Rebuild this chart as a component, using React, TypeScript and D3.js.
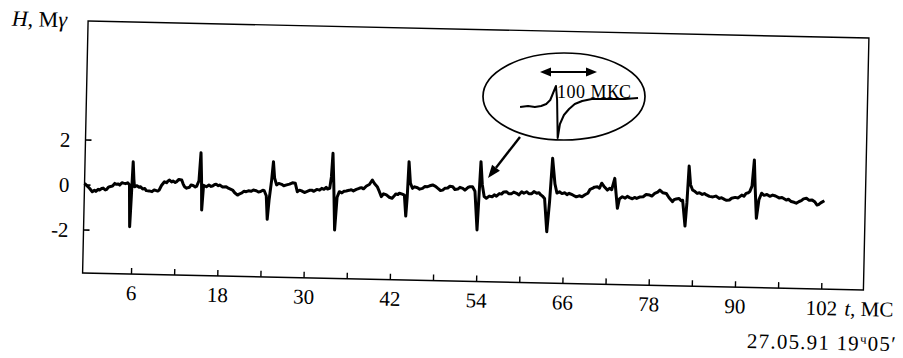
import React from 'react';
import * as d3 from 'd3';

// magnetic field trace (t in ms, H in mγ)
const times = [
  -0.8, -0.4, -0.1, 0.3, 0.6, 0.8, 1.1, 1.3, 1.6, 1.8,
  2.1, 2.3, 2.5, 2.7, 3.1, 3.4, 3.6, 3.9, 4.1, 4.4,
  4.6, 4.9, 5.2, 5.45, 5.6, 5.75, 5.9, 6.05, 6.15, 6.5,
  6.8, 7.0, 7.3, 7.6, 7.8, 8.2, 8.6, 8.9, 9.1, 9.4,
  9.6, 9.9, 10.3, 10.6, 10.8, 11.0, 11.3, 11.5, 11.8, 12.0,
  12.3, 12.7, 12.9, 13.1, 13.4, 13.8, 14.0, 14.3, 14.6, 14.8,
  15.1, 15.3, 15.45, 15.56, 15.75, 16.15, 16.5, 16.8, 17.0, 17.3,
  17.5, 17.8, 18.0, 18.4, 18.9, 19.2, 19.5, 19.8, 20.1, 20.5,
  20.8, 21.1, 21.4, 21.7, 22.0, 22.4, 22.7, 23.1, 23.4, 23.7,
  24.0, 24.2, 24.5, 24.7, 24.9, 25.2, 25.4, 25.6, 25.9, 26.2,
  26.6, 26.9, 27.3, 27.7, 28.1, 28.5, 28.8, 29.1, 29.4, 29.8,
  30.1, 30.5, 30.8, 31.1, 31.5, 31.9, 32.2, 32.5, 32.8, 33.0,
  33.3, 33.5, 33.65, 33.85, 34.1, 34.35, 34.65, 35.0, 35.3, 35.6,
  36.0, 36.3, 36.6, 37.0, 37.4, 37.7, 38.0, 38.4, 38.8, 39.2,
  39.5, 39.9, 40.2, 40.5, 40.8, 41.2, 41.6, 42.0, 42.3, 42.5,
  42.8, 43.0, 43.4, 43.7, 43.95, 44.1, 44.25, 44.5, 44.8, 45.1,
  45.5, 45.8, 46.2, 46.5, 46.9, 47.2, 47.6, 48.0, 48.3, 48.7,
  49.0, 49.3, 49.7, 50.0, 50.4, 50.7, 51.1, 51.4, 51.8, 52.1,
  52.5, 52.8, 53.15, 53.5, 53.9, 54.05, 54.25, 54.5, 54.8, 55.1,
  55.5, 55.9, 56.2, 56.5, 56.9, 57.2, 57.5, 57.9, 58.2, 58.6,
  58.9, 59.3, 59.6, 60.0, 60.3, 60.7, 61.0, 61.4, 61.7, 62.1,
  62.4, 62.6, 62.9, 63.2, 63.6, 63.9, 64.2, 64.6, 64.9, 65.25,
  65.6, 66.0, 66.3, 66.6, 67.1, 67.6, 68.0, 68.4, 68.8, 69.2,
  69.5, 69.8, 70.1, 70.5, 70.8, 71.1, 71.4, 71.9, 72.2, 72.5,
  72.9, 73.1, 73.35, 73.6, 74.0, 74.4, 74.7, 75.0, 75.4, 75.7,
  76.0, 76.4, 76.9, 77.3, 77.8, 78.1, 78.5, 78.9, 79.2, 79.6,
  80.1, 80.5, 81.0, 81.2, 81.5, 81.9, 82.2, 82.4, 82.8, 83.0,
  83.2, 83.45, 83.75, 84.1, 84.4, 84.7, 85.1, 85.4, 85.7, 86.1,
  86.6, 87.0, 87.5, 87.8, 88.2, 88.5, 88.9, 89.2, 89.7, 90.1,
  90.6, 90.9, 91.2, 91.5, 91.7, 92.0, 92.25, 92.45, 92.7, 93.0,
  93.35, 93.7, 94.1, 94.5, 94.9, 95.3, 95.8, 96.2, 96.8, 97.1,
  97.5, 97.9, 98.2, 98.6, 98.9, 99.2, 99.6, 100.0, 100.4, 100.8,
  101.1, 101.3, 101.6, 102.1,
];
const field = [
  0.07, -0.05, -0.14, -0.29, -0.22, -0.27, -0.18, -0.21, -0.14, -0.12,
  -0.2, -0.17, -0.08, -0.05, -0.02, 0.1, 0.06, 0.08, 0.03, 0.14,
  0.12, 0.1, 0.14, 0.05, -1.81, -0.4, 1.08, 0.3, -0.03, 0.02,
  -0.05, -0.02, -0.12, -0.1, -0.19, -0.2, -0.23, -0.15, -0.17, -0.2,
  -0.15, 0.05, 0.22, 0.18, 0.26, 0.3, 0.22, 0.26, 0.2, 0.24,
  0.34, 0.32, 0.15, 0.02, -0.04, 0.0, 0.1, 0.08, 0.02, 0.06,
  0.3, 1.55, 0.4, -1.0, 0.1, 0.04, 0.12, 0.06, 0.08, 0.15,
  0.16, 0.1, 0.13, 0.05, 0.06, 0.0, -0.04, -0.08, -0.2, -0.3,
  -0.24, -0.2, -0.12, -0.14, -0.1, -0.12, -0.06, -0.09, -0.14, -0.12,
  -0.06, -0.08, -0.3, -1.35, -0.5, 0.4, 1.22, 0.5, 0.19, 0.26,
  0.22, 0.16, 0.2, 0.24, 0.3, 0.28, -0.09, -0.02, -0.05, -0.12,
  -0.08, -0.02, -0.01, -0.06, 0.03, 0.0, 0.08, 0.04, 0.13, 0.06,
  0.09, 0.6, 1.65, 0.3, -1.76, -0.3, -0.05, -0.1, -0.03, -0.01,
  0.02, 0.05, 0.0, 0.07, 0.12, 0.15, 0.1, 0.23, 0.3, 0.5,
  0.35, 0.21, 0.0, -0.23, -0.1, -0.15, -0.25, -0.29, -0.18, -0.1,
  -0.12, -0.06, -0.1, -0.14, -1.07, -0.2, 1.35, 0.4, 0.17, 0.24,
  0.2, 0.14, 0.18, 0.26, 0.26, 0.3, 0.34, 0.28, 0.2, 0.1,
  0.12, 0.2, 0.22, 0.3, 0.28, 0.16, 0.18, 0.26, 0.22, 0.14,
  0.26, 0.3, 0.3, 0.1, -1.62, -0.3, 1.42, 0.4, -0.13, -0.2,
  -0.1, -0.13, -0.04, -0.1, 0.02, 0.0, 0.1, 0.11, 0.02, 0.03,
  0.1, 0.05, -0.02, 0.12, 0.06, 0.13, 0.04, 0.05, 0.14, 0.07,
  0.1, 0.02, -0.05, -0.15, -1.63, -0.3, 1.64, 0.5, 0.1, 0.16,
  0.08, 0.12, 0.04, 0.1, 0.03, -0.05, 0.0, -0.04, 0.05, 0.12,
  0.3, 0.34, 0.4, 0.42, 0.36, 0.58, 0.45, 0.28, 0.36, 0.3,
  0.81, 0.2, -0.52, -0.1, 0.0, -0.06, 0.02, -0.03, -0.08, -0.02,
  -0.06, 0.0, 0.02, 0.12, 0.1, 0.06, 0.18, 0.24, 0.33, 0.22,
  0.19, 0.0, -0.17, -0.08, -0.05, -0.02, -0.12, -0.1, -1.24, -0.2,
  1.43, 0.6, 0.37, 0.3, 0.22, 0.25, 0.18, 0.22, 0.16, 0.1,
  0.08, 0.12, 0.02, 0.05, -0.02, -0.06, -0.04, 0.04, 0.08, 0.06,
  0.19, 0.14, 0.27, 0.3, 0.35, 0.6, 1.76, 0.5, -0.83, 0.0,
  0.29, 0.2, 0.24, 0.16, 0.22, 0.18, 0.1, 0.12, 0.01, 0.05,
  -0.05, -0.08, -0.12, -0.04, 0.0, 0.08, 0.11, 0.02, 0.04, -0.05,
  -0.18, -0.16, -0.08, 0.02,
];

const xTicks = [6, 12, 18, 24, 30, 36, 42, 48, 54, 60, 66, 72, 78, 84, 90, 96, 102];
const xLabels = [6, 18, 30, 42, 54, 66, 78, 90, 102];
const yTicks = [-2, 0, 2];

// zoomed single pulse in the inset (t in μs, relative amplitude)
const insetTimes = [-35, -21, -9, 2, 11, 18, 23, 28, 30, 31, 35, 42, 51, 61, 74, 91, 123, 149, 172];
const insetField = [-0.1, 0, -0.1, 0, 0.2, 0.6, 1.3, 2.0, 0.6, -3.2, -1.8, -0.9, -0.3, 0.2, 0.5, 0.7, 0.7, 0.7, 0.8];

const left = 85.25, right = 866.25, top = 29.5, bottom = 281.5;
const font = 'Liberation Serif, Times New Roman, serif';

export default function App() {
  const x = d3.scaleLinear().domain([-0.8, 107.8]).range([left, right]);
  const y = d3.scaleLinear().domain([-3.91, 7.29]).range([bottom, top]);
  const line = d3.line<number>().x((_, i) => x(times[i])).y(d => y(d));

  const ix = d3.scaleLinear().domain([0, 100]).range([540, 597]);
  const iy = d3.scaleLinear().domain([0, 1]).range([106, 96]);
  const insetLine = d3.line<number>().x((_, i) => ix(insetTimes[i])).y(d => iy(d));

  // pointer arrow from the inset to the pulse
  const p0 = [520, 137], p1 = [488, 178];
  const dx = p1[0] - p0[0], dy = p1[1] - p0[1];
  const len = Math.hypot(dx, dy);
  const ux = dx / len, uy = dy / len;
  const bx = p1[0] - ux * 13, by = p1[1] - uy * 13;
  const head = [[p1[0], p1[1]], [bx - uy * 5, by + ux * 5], [bx + uy * 5, by - ux * 5]];

  const ay = 72;
  return (
    <svg width={903} height={358} style={{ position: 'absolute', left: 0, top: 0, background: '#fff', fontFamily: font }}>
      <g transform="rotate(1.25, 475.75, 155.5)">
        <rect x={left} y={top} width={right - left} height={bottom - top} fill="none" stroke="#000" strokeWidth={1.4} />
        {xTicks.map(t => (
          <line key={t} x1={x(t)} x2={x(t)} y1={bottom} y2={bottom - 6} stroke="#000" strokeWidth={1.4} />
        ))}
        {xLabels.map(t => (
          <text key={t} x={x(t)} y={bottom + 26} fontSize={21} textAnchor="middle">{t}</text>
        ))}
        <text x={x(102) + 23} y={bottom + 26} fontSize={21}>
          <tspan fontStyle="italic">t</tspan>, МС
        </text>
        {yTicks.map(v => (
          <g key={v}>
            <line x1={left} x2={left + 6} y1={y(v)} y2={y(v)} stroke="#000" strokeWidth={1.6} />
            <text x={left - 15} y={y(v)} dy="0.35em" fontSize={21} textAnchor="end">{v}</text>
          </g>
        ))}
        <text x={9} y={36} fontSize={22}>
          <tspan fontStyle="italic">H</tspan>, М<tspan fontStyle="italic">γ</tspan>
        </text>
        <text x={751} y={342} fontSize={21} letterSpacing={1.2}>
          27.05.91 19<tspan fontSize={13} dy={-7}>ч</tspan><tspan dy={7}>05′</tspan>
        </text>
        <path d={line(field) ?? ''} fill="none" stroke="#000" strokeWidth={3} strokeLinejoin="round" />
      </g>

      <ellipse cx={564} cy={96.5} rx={81} ry={43.5} fill="none" stroke="#000" strokeWidth={1.7} />
      <line x1={ix(0) + 8} x2={ix(100) - 8} y1={ay} y2={ay} stroke="#000" strokeWidth={2.2} />
      <polygon points={`${ix(0)},${ay} ${ix(0) + 11},${ay - 4.5} ${ix(0) + 11},${ay + 4.5}`} fill="#000" />
      <polygon points={`${ix(100)},${ay} ${ix(100) - 11},${ay - 4.5} ${ix(100) - 11},${ay + 4.5}`} fill="#000" />
      <text x={557} y={98} fontSize={18} letterSpacing={0.5}>100 МКС</text>
      <path d={insetLine(insetField) ?? ''} fill="none" stroke="#000" strokeWidth={2} strokeLinejoin="round" />
      <line x1={p0[0]} y1={p0[1]} x2={bx} y2={by} stroke="#000" strokeWidth={2.4} />
      <polygon points={head.map(p => p.join(',')).join(' ')} fill="#000" />
    </svg>
  );
}
